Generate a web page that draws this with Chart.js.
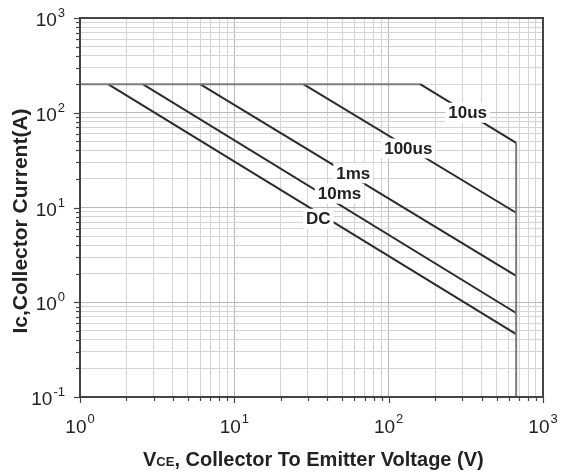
<!DOCTYPE html>
<html>
<head>
<meta charset="utf-8">
<script src="https://cdn.jsdelivr.net/npm/chart.js@4.4.1/dist/chart.umd.min.js"></script>
<style>
  html, body { margin: 0; padding: 0; background: #fff; }
  #wrap { width: 561px; height: 473px; }
</style>
</head>
<body>
<div id="wrap"><canvas id="soaChart" width="561" height="473"></canvas></div>
<script>
// SOA curves: collector voltage (V) vs collector current (A)
const envelopeV = [1, 160, 670, 670];      // 200A limit, 10us line, voltage limit
const envelopeI = [200, 200, 48, 0.1];
const us100V = [28, 670];
const us100I = [200, 8.8];
const ms1V = [6, 670];
const ms1I = [200, 1.9];
const ms10V = [2.55, 670];
const ms10I = [200, 0.77];
const dcV = [1.52, 670];
const dcI = [200, 0.46];

// curve labels, placed on the curves (data units)
const curveLabels = ["10us", "100us", "1ms", "10ms", "DC"];
const labelV = [325, 134, 59, 48, 35];
const labelI = [100, 42, 23, 14, 7.6];

// decade ticks
const xDecades = [1, 10, 100, 1000];
const xExp = ["0", "1", "2", "3"];
const yDecades = [0.1, 1, 10, 100, 1000];
const yExp = ["-1", "0", "1", "2", "3"];

const toPoints = (xs, ys) => xs.map((v, i) => ({ x: v, y: ys[i] }));

// decades plus 2..9 minors
function withMinors(decades) {
  const out = [];
  decades.forEach((d, k) => {
    out.push({ value: d, major: true });
    if (k < decades.length - 1) {
      for (let m = 2; m <= 9; m++) out.push({ value: d * m, major: false });
    }
  });
  return out;
}

const DARK = "#2b2b2b";
const GREY = "#7d7d7d";
const FONT = "'Liberation Sans', Arial, sans-serif";

const lineSet = (pts) => ({
  data: pts,
  showLine: true,
  borderColor: DARK,
  borderWidth: 2,
  pointRadius: 0,
  tension: 0,
});

const extras = {
  id: "extras",
  afterDatasetsDraw(chart) {
    const ctx = chart.ctx;
    const xs = chart.scales.x, ys = chart.scales.y;
    ctx.save();
    ctx.font = "bold 17px " + FONT;
    ctx.textAlign = "center";
    ctx.textBaseline = "middle";
    curveLabels.forEach((t, i) => {
      const px = xs.getPixelForValue(labelV[i]);
      const py = ys.getPixelForValue(labelI[i]);
      const w = ctx.measureText(t).width;
      ctx.fillStyle = "#fff";
      ctx.fillRect(px - w / 2 - 3, py - 10, w + 6, 20);
      ctx.fillStyle = "#222";
      ctx.fillText(t, px, py + 1);
    });
    ctx.restore();
  },
  afterDraw(chart) {
    const ctx = chart.ctx;
    const a = chart.chartArea;
    const xs = chart.scales.x, ys = chart.scales.y;
    ctx.save();

    // frame
    ctx.strokeStyle = "#444";
    ctx.lineWidth = 2;
    ctx.strokeRect(a.left, a.top, a.right - a.left, a.bottom - a.top);

    // tick marks, outside
    ctx.lineWidth = 1.2;
    xs.ticks.forEach(t => {
      const px = Math.round(xs.getPixelForValue(t.value)) + 0.5;
      const len = t.major ? 6 : 4;
      ctx.beginPath();
      ctx.moveTo(px, a.bottom);
      ctx.lineTo(px, a.bottom + len);
      ctx.stroke();
    });
    ys.ticks.forEach(t => {
      const py = Math.round(ys.getPixelForValue(t.value)) + 0.5;
      const len = t.major ? 6 : 4;
      ctx.beginPath();
      ctx.moveTo(a.left, py);
      ctx.lineTo(a.left - len, py);
      ctx.stroke();
    });

    // tick labels 10^n
    const base = "19px " + FONT;
    const sup = "13px " + FONT;
    ctx.fillStyle = "#222";
    ctx.textBaseline = "alphabetic";
    ctx.textAlign = "left";
    const measure = (e) => {
      ctx.font = base;
      const w1 = ctx.measureText("10").width;
      ctx.font = sup;
      const w2 = ctx.measureText(e).width;
      return { w1, w2, total: w1 + w2 + 1 };
    };
    xDecades.forEach((d, i) => {
      const px = xs.getPixelForValue(d);
      const m = measure(xExp[i]);
      const left = px - m.total / 2;
      ctx.font = base;
      ctx.fillText("10", left, a.bottom + 36);
      ctx.font = sup;
      ctx.fillText(xExp[i], left + m.w1 + 1, a.bottom + 26);
    });
    yDecades.forEach((d, i) => {
      const py = ys.getPixelForValue(d);
      const m = measure(yExp[i]);
      const left = a.left - 15 - m.total;
      ctx.font = base;
      ctx.fillText("10", left, py + 8);
      ctx.font = sup;
      ctx.fillText(yExp[i], left + m.w1 + 1, py - 1);
    });

    // axis titles
    ctx.fillStyle = "#222";
    const tb = "bold 20px " + FONT;
    const ts = "bold 13px " + FONT;
    const partsX = [["V", tb], ["CE", ts], [", Collector To Emitter Voltage (V)", tb]];
    let cx = 143;
    partsX.forEach(p => {
      ctx.font = p[1];
      ctx.fillText(p[0], cx, 466);
      cx += ctx.measureText(p[0]).width;
    });

    ctx.translate(21, 221);
    ctx.rotate(-Math.PI / 2);
    ctx.font = "bold 21px " + FONT;
    ctx.textAlign = "center";
    ctx.textBaseline = "middle";
    ctx.fillText("Ic,Collector Current(A)", 0, 0);
    ctx.restore();
  }
};

new Chart(document.getElementById("soaChart"), {
  type: "scatter",
  data: {
    datasets: [
      {
        ...lineSet(toPoints(envelopeV, envelopeI)),
        segment: {
          borderColor: (c) =>
            (c.p0.parsed.y === c.p1.parsed.y || c.p0.parsed.x === c.p1.parsed.x) ? GREY : DARK,
        },
      },
      lineSet(toPoints(us100V, us100I)),
      lineSet(toPoints(ms1V, ms1I)),
      lineSet(toPoints(ms10V, ms10I)),
      lineSet(toPoints(dcV, dcI)),
    ],
  },
  options: {
    responsive: false,
    animation: false,
    layout: { padding: { top: 18, right: 18, left: 0, bottom: 0 } },
    plugins: { legend: { display: false }, tooltip: { enabled: false } },
    scales: {
      x: {
        type: "logarithmic",
        min: 1,
        max: 1000,
        afterBuildTicks: (s) => { s.ticks = withMinors(xDecades); },
        afterFit: (s) => { s.height = 76; },
        ticks: { display: false },
        grid: {
          drawTicks: false,
          color: (c) => (c.tick && c.tick.major ? "#b9b9b9" : "#d4d4d4"),
          lineWidth: 1,
        },
        border: { display: false },
      },
      y: {
        type: "logarithmic",
        min: 0.1,
        max: 1000,
        afterBuildTicks: (s) => { s.ticks = withMinors(yDecades); },
        afterFit: (s) => { s.width = 80; },
        ticks: { display: false },
        grid: {
          drawTicks: false,
          color: (c) => (c.tick && c.tick.major ? "#b9b9b9" : "#d4d4d4"),
          lineWidth: 1,
        },
        border: { display: false },
      },
    },
  },
  plugins: [extras],
});
</script>
</body>
</html>
